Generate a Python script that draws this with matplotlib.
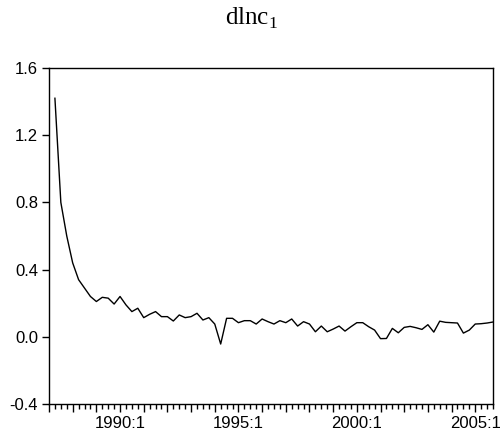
import matplotlib
matplotlib.use('Agg')
from matplotlib import pyplot as plt
import numpy as np

plt.rcParams['font.family'] = ['Liberation Sans', 'DejaVu Sans']
plt.rcParams['mathtext.fontset'] = 'custom'
plt.rcParams['mathtext.rm'] = 'Liberation Serif'

# quarterly series, 1987:2 - 2005:4
start_year = 1987
start_quarter = 2
dlnc1 = [1.42, 0.80, 0.60,
         0.44, 0.34, 0.29, 0.24,
         0.21, 0.235, 0.23, 0.195,
         0.24, 0.19, 0.15, 0.17,
         0.114, 0.134, 0.15, 0.12,
         0.12, 0.094, 0.13, 0.114,
         0.12, 0.14, 0.10, 0.114,
         0.076, -0.043, 0.11, 0.11,
         0.084, 0.096, 0.096, 0.076,
         0.106, 0.09, 0.076, 0.096,
         0.084, 0.106, 0.064, 0.09,
         0.076, 0.03, 0.064, 0.03,
         0.046, 0.064, 0.034, 0.06,
         0.084, 0.084, 0.06, 0.04,
         -0.011, -0.01, 0.05, 0.024,
         0.056, 0.062, 0.054, 0.044,
         0.072, 0.028, 0.093, 0.086,
         0.084, 0.082, 0.022, 0.04,
         0.076, 0.078, 0.082, 0.088]
label_years = [1990, 1995, 2000, 2005]
y_ticks = [-0.4, 0.0, 0.4, 0.8, 1.2, 1.6]

t = start_year + (start_quarter - 1) / 4 + np.arange(len(dlnc1)) / 4

fig = plt.figure(figsize=(5.04, 4.43), dpi=100)
ax = fig.add_axes([49 / 504, 39 / 443, 444 / 504, 336 / 443])
ax.plot(t, dlnc1, color='black', lw=1.0)

ax.set_xlim(start_year, t[-1])
ax.set_ylim(-0.4, 1.6)
ax.set_yticks(y_ticks)
ax.set_yticklabels(['%.1f' % v for v in y_ticks])

years = np.arange(start_year, 2006)
ax.set_xticks(years)
ax.set_xticklabels(['%d:1' % y if y in label_years else '' for y in years])
ax.set_xticks(np.arange(start_year, t[-1] + 0.01, 0.25), minor=True)

ax.tick_params(axis='x', which='major', direction='out', length=6, width=1, labelsize=12, pad=3)
ax.tick_params(axis='x', which='minor', direction='out', length=3.5, width=1)
ax.tick_params(axis='y', direction='out', length=5, width=1, labelsize=12, pad=3)
for s in ax.spines.values():
    s.set_linewidth(1)
    s.set_color('black')

fig.text(0.5, 1 - 18 / 443, r'dlnc$_\mathrm{1}$', ha='center', va='center',
         fontsize=18, family='Liberation Serif')

fig.savefig('out.png', dpi=100)
